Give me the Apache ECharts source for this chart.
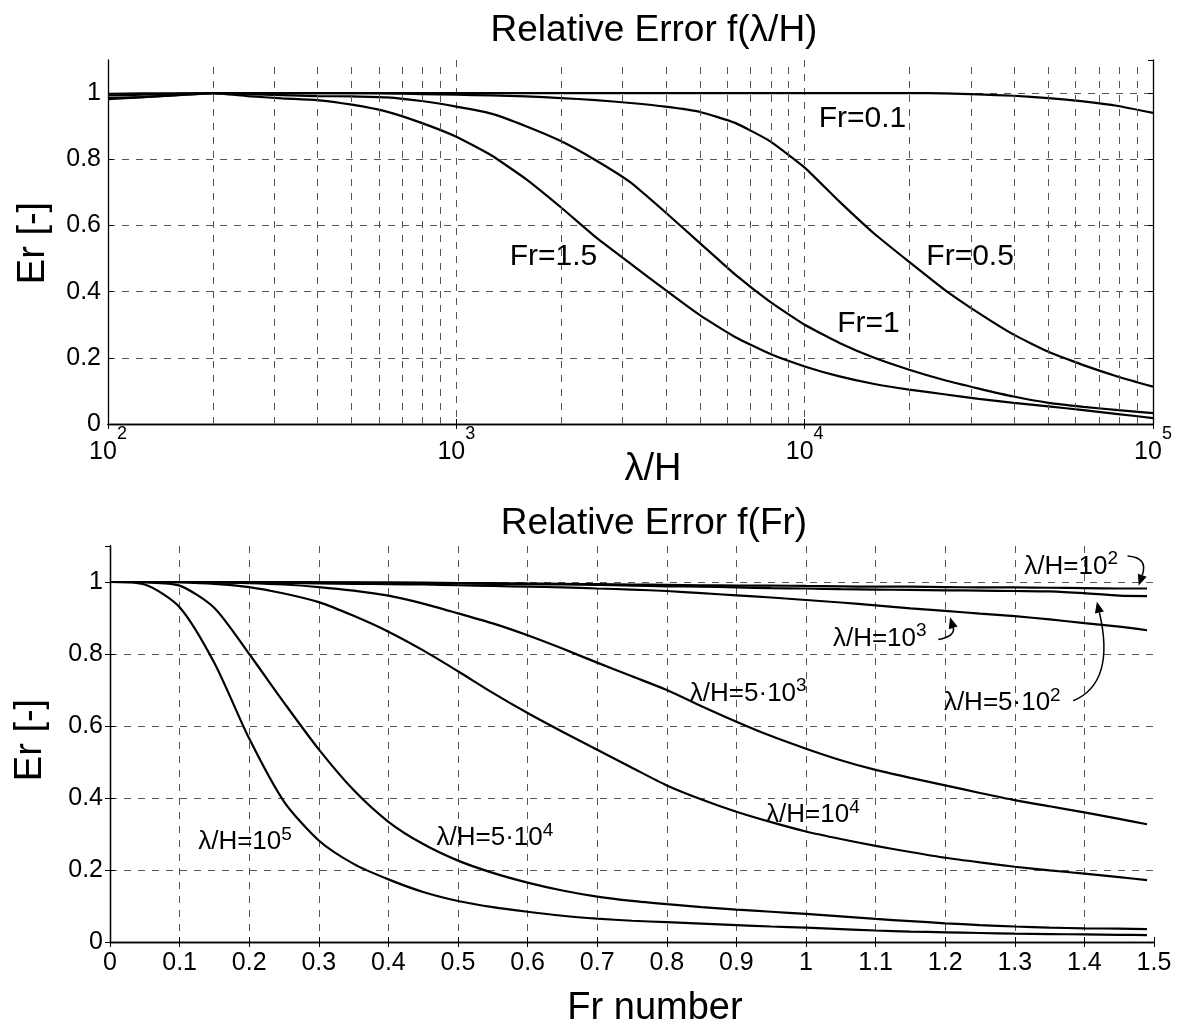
<!DOCTYPE html>
<html>
<head>
<meta charset="utf-8">
<script src="https://cdn.jsdelivr.net/npm/echarts@6/dist/echarts.min.js"></script>
<style>
  html, body { margin: 0; padding: 0; background: #fff; }
  #chart { width: 1184px; height: 1029px; }
</style>
</head>
<body>
<div id="chart"></div>
<script>
// ---- Upper panel: relative error versus wavelength ratio (log axis) ----
const lambdaH = [100, 126, 158, 200, 251, 316, 398, 501, 631, 794,
  1000, 1259, 1585, 1995, 2512, 3162, 3981, 5012, 6310, 7943,
  10000, 12589, 15849, 19953, 25119, 31623, 39811, 50119, 63096, 79433, 100000];

const erFr01 = [0.998, 0.999, 0.999, 1.0, 1.0, 1.0, 1.0, 1.0, 1.0, 1.0,
  1.0, 1.0, 1.0, 1.0, 1.0, 1.0, 1.0, 1.0, 1.0, 1.0,
  1.0, 1.0, 1.0, 1.0, 0.999, 0.996, 0.992, 0.985, 0.975, 0.961, 0.94];
const erFr05 = [0.993, 0.995, 0.998, 1.0, 1.0, 1.0, 1.0, 1.0, 0.999, 0.997,
  0.995, 0.993, 0.99, 0.985, 0.979, 0.97, 0.959, 0.943, 0.91, 0.855,
  0.775, 0.672, 0.575, 0.49, 0.407, 0.335, 0.27, 0.218, 0.178, 0.143, 0.113];
const erFr1 = [0.985, 0.988, 0.994, 1.0, 0.997, 0.994, 0.991, 0.99, 0.987, 0.976,
  0.959, 0.938, 0.9, 0.855, 0.797, 0.73, 0.64, 0.546, 0.452, 0.37,
  0.30, 0.245, 0.2, 0.164, 0.133, 0.107, 0.083, 0.064, 0.052, 0.042, 0.033];
const erFr15 = [0.982, 0.988, 0.994, 1.0, 0.991, 0.984, 0.979, 0.965, 0.944, 0.91,
  0.868, 0.812, 0.74, 0.655, 0.565, 0.485, 0.405, 0.328, 0.263, 0.212,
  0.174, 0.144, 0.121, 0.104, 0.09, 0.076, 0.064, 0.053, 0.042, 0.03, 0.018];

// minor (2..9 x decade) grid positions of the log axis
const logMinorGrid = [200, 300, 400, 500, 600, 700, 800, 900,
  2000, 3000, 4000, 5000, 6000, 7000, 8000, 9000,
  20000, 30000, 40000, 50000, 60000, 70000, 80000, 90000];

// ---- Lower panel: relative error versus Froude number ----
const frNumber = [0, 0.05, 0.1, 0.15, 0.2, 0.25, 0.3, 0.35, 0.4, 0.45,
  0.5, 0.55, 0.6, 0.65, 0.7, 0.75, 0.8, 0.85, 0.9, 0.95,
  1.0, 1.05, 1.1, 1.15, 1.2, 1.25, 1.3, 1.35, 1.4, 1.45, 1.49];

const erL1e2 = [1, 1, 1, 1, 1, 1, 0.999, 0.999, 0.998, 0.998,
  0.997, 0.997, 0.996, 0.995, 0.994, 0.993, 0.992, 0.991, 0.99, 0.99,
  0.989, 0.988, 0.987, 0.987, 0.986, 0.985, 0.985, 0.984, 0.983, 0.982, 0.982];
const erL5e2 = [1, 1, 1, 1, 1, 0.999, 0.999, 0.998, 0.998, 0.997,
  0.996, 0.995, 0.994, 0.993, 0.992, 0.99, 0.988, 0.987, 0.985, 0.983,
  0.982, 0.98, 0.979, 0.978, 0.977, 0.976, 0.975, 0.974, 0.969, 0.962, 0.961];
const erL1e3 = [1, 1, 1, 0.999, 0.998, 0.997, 0.996, 0.995, 0.994, 0.993,
  0.991, 0.989, 0.987, 0.985, 0.982, 0.979, 0.975, 0.969, 0.963, 0.957,
  0.95, 0.943, 0.935, 0.927, 0.92, 0.912, 0.905, 0.896, 0.886, 0.876, 0.866];
const erL5e3 = [1, 1, 1, 0.999, 0.997, 0.993, 0.986, 0.976, 0.962, 0.94,
  0.913, 0.885, 0.852, 0.815, 0.776, 0.738, 0.70, 0.655, 0.612, 0.572,
  0.537, 0.505, 0.478, 0.456, 0.435, 0.414, 0.394, 0.377, 0.36, 0.342, 0.327];
const erL1e4 = [1, 1, 0.999, 0.995, 0.986, 0.968, 0.944, 0.906, 0.862, 0.81,
  0.752, 0.692, 0.636, 0.584, 0.534, 0.484, 0.435, 0.396, 0.362, 0.333,
  0.307, 0.286, 0.267, 0.25, 0.234, 0.221, 0.209, 0.199, 0.19, 0.18, 0.172];
const erL5e4 = [1, 0.999, 0.99, 0.928, 0.8, 0.665, 0.535, 0.422, 0.334, 0.272,
  0.226, 0.192, 0.165, 0.143, 0.126, 0.114, 0.105, 0.097, 0.09, 0.084,
  0.078, 0.071, 0.064, 0.058, 0.052, 0.047, 0.043, 0.04, 0.038, 0.037, 0.036];
const erL1e5 = [1, 0.993, 0.93, 0.775, 0.565, 0.39, 0.282, 0.217, 0.174, 0.139,
  0.114, 0.097, 0.084, 0.073, 0.065, 0.059, 0.055, 0.051, 0.047, 0.043,
  0.04, 0.036, 0.032, 0.029, 0.027, 0.025, 0.023, 0.022, 0.021, 0.02, 0.019];

const FONT = '"Liberation Sans", Arial, Helvetica, sans-serif';
const GRID_COLOR = '#555';
const DASH = [7, 7];

const chart = echarts.init(document.getElementById('chart'));

const pairs = (xs, ys) => xs.map((x, i) => [x, ys[i]]);

function curve(name, xs, ys, axisIdx, smooth) {
  return {
    name, type: 'line', xAxisIndex: axisIdx, yAxisIndex: axisIdx,
    data: pairs(xs, ys), showSymbol: false, symbol: 'none',
    smooth: smooth || false,
    lineStyle: { color: '#000', width: 2.2 }, z: 3, animation: false, silent: true
  };
}

const tickLabel = { color: '#000', fontSize: 25, fontFamily: FONT };
const splitDashed = { show: true, lineStyle: { color: GRID_COLOR, width: 1, type: DASH },
  showMinLine: false, showMaxLine: false };
const frame = { show: true, lineStyle: { color: '#000', width: 1.3 } };
const innerTick = { show: true, inside: true, length: 5, lineStyle: { color: '#000', width: 1 } };

function yAxes(gridIndex) {
  const base = { type: 'value', gridIndex, min: 0, max: 1.1, interval: 0.2 };
  return [
    Object.assign({}, base, {
      position: 'left', axisLine: frame, axisTick: innerTick, splitLine: splitDashed,
      axisLabel: Object.assign({}, tickLabel, { margin: 7, showMaxLabel: false })
    }),
    Object.assign({}, base, {
      position: 'right', axisLine: frame, axisTick: innerTick,
      splitLine: { show: false }, axisLabel: { show: false }
    })
  ];
}

const logAxisBase = { type: 'log', logBase: 10, gridIndex: 0, min: 100, max: 100000 };
const frAxisBase = { type: 'value', gridIndex: 1, min: 0, max: 1.5, interval: 0.1 };

const option = {
  backgroundColor: '#fff',
  animation: false,
  grid: [
    { left: 108, right: 31, top: 60, bottom: 605, containLabel: false },
    { left: 110, right: 30, top: 546, bottom: 87, containLabel: false }
  ],
  xAxis: [
    Object.assign({}, logAxisBase, {
      position: 'bottom', axisLine: frame, axisTick: innerTick, splitLine: splitDashed,
      axisLabel: {
        margin: 1,
        formatter: v => '{b|10}{s|' + Math.round(Math.log10(v)) + '}',
        rich: {
          b: { fontSize: 25, lineHeight: 40, verticalAlign: 'bottom', fontFamily: FONT, color: '#000' },
          s: { fontSize: 18, verticalAlign: 'top', fontFamily: FONT, color: '#000' }
        }
      }
    }),
    Object.assign({}, logAxisBase, {
      position: 'top', axisLine: frame, axisTick: innerTick,
      splitLine: { show: false }, axisLabel: { show: false }
    }),
    Object.assign({}, frAxisBase, {
      position: 'bottom', axisLine: frame, axisTick: innerTick, splitLine: splitDashed,
      axisLabel: Object.assign({}, tickLabel, { margin: 9, interval: 0 })
    }),
    Object.assign({}, frAxisBase, {
      position: 'top', axisLine: frame, axisTick: innerTick,
      splitLine: { show: false }, axisLabel: { show: false }
    })
  ],
  yAxis: yAxes(0).concat(yAxes(1)),
  series: [
    {
      name: 'minor grid', type: 'line', xAxisIndex: 0, yAxisIndex: 0, data: [], z: 1,
      silent: true, animation: false,
      markLine: {
        silent: true, animation: false, symbol: ['none', 'none'],
        label: { show: false },
        lineStyle: { color: GRID_COLOR, width: 1, type: DASH },
        emphasis: { disabled: true },
        data: logMinorGrid.map(v => ({ xAxis: v }))
      }
    },
    curve('Fr=0.1', lambdaH, erFr01, 0, 0.15),
    curve('Fr=0.5', lambdaH, erFr05, 0, 0.15),
    curve('Fr=1', lambdaH, erFr1, 0, 0.15),
    curve('Fr=1.5', lambdaH, erFr15, 0, 0.15),
    curve('λ/H=10^2', frNumber, erL1e2, 2, 0.25),
    curve('λ/H=5·10^2', frNumber, erL5e2, 2, 0.25),
    curve('λ/H=10^3', frNumber, erL1e3, 2, 0.25),
    curve('λ/H=5·10^3', frNumber, erL5e3, 2, 0.25),
    curve('λ/H=10^4', frNumber, erL1e4, 2, 0.25),
    curve('λ/H=5·10^4', frNumber, erL5e4, 2, 0.25),
    curve('λ/H=10^5', frNumber, erL1e5, 2, 0.25)
  ]
};

chart.setOption(option);

// ---- annotations, placed in data coordinates of each panel ----
const upperAt = (x, y) => chart.convertToPixel({ seriesIndex: 1 }, [x, y]);
const lowerAt = (x, y) => chart.convertToPixel({ seriesIndex: 5 }, [x, y]);

function plainText(text, p, size, rotation) {
  return {
    type: 'text', x: p[0], y: p[1], rotation: rotation || 0, silent: true, z: 10,
    style: {
      text, fill: '#000', fontSize: size, fontFamily: FONT,
      align: 'center', verticalAlign: 'middle', textAlign: 'center', textVerticalAlign: 'middle'
    }
  };
}

const supRich = {
  n: { fontSize: 26, lineHeight: 30, verticalAlign: 'bottom', fontFamily: FONT, fill: '#000', color: '#000' },
  s: { fontSize: 19, verticalAlign: 'top', fontFamily: FONT, fill: '#000', color: '#000' }
};

function supText(base, exp, p) {
  return {
    type: 'text', x: p[0], y: p[1], silent: true, z: 10,
    style: {
      text: '{n|' + base + '}{s|' + exp + '}', rich: supRich, fill: '#000',
      align: 'center', verticalAlign: 'middle', textAlign: 'center', textVerticalAlign: 'middle'
    }
  };
}

function arrow(p0, c, p1) {
  const size = 11;
  const dx = p1[0] - c[0], dy = p1[1] - c[1];
  const len = Math.hypot(dx, dy);
  const ux = dx / len, uy = dy / len;
  const bx = p1[0] - ux * size, by = p1[1] - uy * size;
  const w = size * 0.42;
  return [
    {
      type: 'bezierCurve', silent: true, z: 10,
      shape: { x1: p0[0], y1: p0[1], cpx1: c[0], cpy1: c[1], x2: bx, y2: by },
      style: { stroke: '#000', lineWidth: 1.5, fill: null }
    },
    {
      type: 'polygon', silent: true, z: 10,
      shape: { points: [[p1[0], p1[1]], [bx - uy * w, by + ux * w], [bx + uy * w, by - ux * w]] },
      style: { fill: '#000' }
    }
  ];
}

const graphics = [
  // titles and axis names
  plainText('Relative Error f(λ/H)', [654, 31], 37),
  plainText('λ/H', [653, 470], 38),
  plainText('Er [-]', [34, 243], 38, Math.PI / 2),
  plainText('Relative Error f(Fr)', [654, 524], 37),
  plainText('Fr number', [655, 1009], 38),
  plainText('Er [-]', [31, 740], 38, Math.PI / 2),

  // upper panel curve labels
  plainText('Fr=0.1', upperAt(14660, 0.924), 30),
  plainText('Fr=0.5', upperAt(29850, 0.505), 30),
  plainText('Fr=1', upperAt(15240, 0.303), 30),
  plainText('Fr=1.5', upperAt(1900, 0.505), 30),

  // lower panel curve labels
  supText('λ/H=10', '5', lowerAt(0.194, 0.283)),
  supText('λ/H=5·10', '4', lowerAt(0.553, 0.295)),
  supText('λ/H=5·10', '3', lowerAt(0.917, 0.696)),
  supText('λ/H=10', '4', lowerAt(1.01, 0.358)),
  supText('λ/H=10', '3', lowerAt(1.106, 0.849)),
  supText('λ/H=5·10', '2', lowerAt(1.282, 0.669)),
  supText('λ/H=10', '2', lowerAt(1.381, 1.049))
]
  .concat(arrow(lowerAt(1.462, 1.072), lowerAt(1.492, 1.068), lowerAt(1.478, 0.99)))
  .concat(arrow(lowerAt(1.19, 0.84), lowerAt(1.215, 0.85), lowerAt(1.207, 0.902)))
  .concat(arrow(lowerAt(1.384, 0.67), lowerAt(1.445, 0.72), lowerAt(1.418, 0.945)));

chart.setOption({ graphic: graphics });
</script>
</body>
</html>
